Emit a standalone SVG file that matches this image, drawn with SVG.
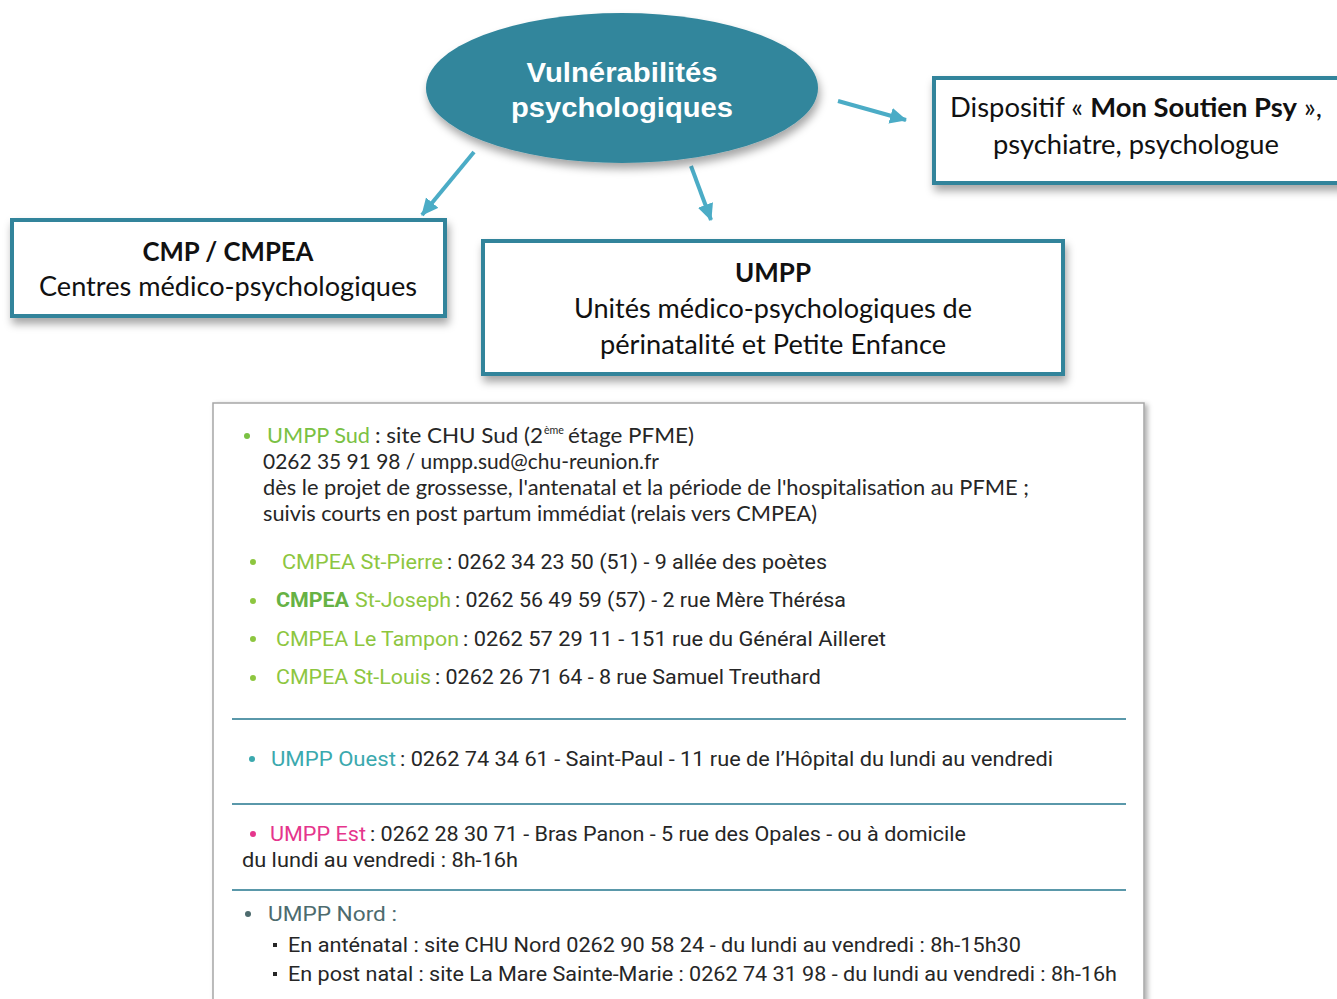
<svg xmlns="http://www.w3.org/2000/svg" width="1337" height="999" viewBox="0 0 1337 999">
  <style>
    .box { fill: #ffffff; stroke: #31849B; stroke-width: 4; }
    .boxt { font-family: Lato, "Noto Sans", sans-serif; font-size: 26px; fill: #111111; text-anchor: middle; }
    .b { font-weight: bold; }
    .link { stroke: #4BACC6; stroke-width: 4; fill: none; }
    .p { font-family: Lato, "Noto Sans", sans-serif; font-size: 21px; fill: #262626; }
    .c { font-family: Roboto, "Liberation Sans", sans-serif; font-size: 21px; fill: #262626; }
    .g { fill: #8DC63F; }
    .gd { fill: #66B245; font-weight: bold; }
    .sep { stroke: #5A98AA; stroke-width: 2; }
  </style>
  <defs>
    <filter id="shadow" x="-10%" y="-20%" width="120%" height="150%">
      <feDropShadow dx="2" dy="6" stdDeviation="4" flood-color="#000000" flood-opacity="0.35"/>
    </filter>
    <filter id="panelShadow" x="-5%" y="-5%" width="110%" height="110%">
      <feDropShadow dx="3" dy="2" stdDeviation="2.5" flood-color="#000000" flood-opacity="0.3"/>
    </filter>
    <marker id="head" markerUnits="userSpaceOnUse" markerWidth="20" markerHeight="18" refX="16" refY="8" orient="auto">
      <path d="M0,0 L17,8 L0,16 Z" fill="#4BACC6"/>
    </marker>
  </defs>

  <rect width="1337" height="999" fill="#ffffff"/>

  <!-- connectors -->
  <g id="connectors">
    <line class="link" x1="474" y1="152" x2="422" y2="215" marker-end="url(#head)"/>
    <line class="link" x1="691" y1="166" x2="711" y2="220" marker-end="url(#head)"/>
    <line class="link" x1="838" y1="101" x2="906" y2="120" marker-end="url(#head)"/>
  </g>

  <!-- central ellipse -->
  <g id="vulnerabilites">
    <ellipse cx="622" cy="88" rx="196" ry="75" fill="#32869C" filter="url(#shadow)"/>
    <text x="622" y="82" text-anchor="middle" font-family="'Liberation Sans', Arial, sans-serif" font-weight="bold" font-size="28" fill="#ffffff" textLength="191" lengthAdjust="spacingAndGlyphs">Vulnérabilités</text>
    <text x="622" y="117" text-anchor="middle" font-family="'Liberation Sans', Arial, sans-serif" font-weight="bold" font-size="28" fill="#ffffff" textLength="222" lengthAdjust="spacingAndGlyphs">psychologiques</text>
  </g>

  <!-- CMP / CMPEA -->
  <g id="cmp">
    <rect class="box" x="12" y="220" width="433" height="96" filter="url(#shadow)"/>
    <text class="boxt b" x="228" y="261" textLength="171" lengthAdjust="spacingAndGlyphs">CMP / CMPEA</text>
    <text class="boxt" x="228" y="296" textLength="378" lengthAdjust="spacingAndGlyphs">Centres médico-psychologiques</text>
  </g>

  <!-- UMPP -->
  <g id="umpp">
    <rect class="box" x="483" y="241" width="580" height="133" filter="url(#shadow)"/>
    <text class="boxt b" x="773" y="282" textLength="76" lengthAdjust="spacingAndGlyphs">UMPP</text>
    <text class="boxt" x="773" y="318" textLength="398" lengthAdjust="spacingAndGlyphs">Unités médico-psychologiques de</text>
    <text class="boxt" x="773" y="354" textLength="346" lengthAdjust="spacingAndGlyphs">périnatalité et Petite Enfance</text>
  </g>

  <!-- Mon Soutien Psy -->
  <g id="mon-soutien-psy">
    <rect class="box" x="934" y="78" width="420" height="105" filter="url(#shadow)"/>
    <text class="boxt" x="950" y="117" style="text-anchor:start" textLength="372" lengthAdjust="spacingAndGlyphs">Dispositif « <tspan class="b">Mon Soutien Psy</tspan> »,</text>
    <text class="boxt" x="1136" y="154" textLength="286" lengthAdjust="spacingAndGlyphs">psychiatre, psychologue</text>
  </g>

  <!-- contact panel -->
  <g id="contacts">
    <rect x="213" y="403" width="931" height="610" fill="#ffffff" stroke="#A6A6A6" stroke-width="1.5" filter="url(#panelShadow)"/>

    <!-- UMPP Sud -->
    <circle cx="247" cy="436" r="3" fill="#7AC143"/>
    <text class="p" x="267" y="443" style="fill:#7AC143" textLength="103" lengthAdjust="spacingAndGlyphs">UMPP Sud</text>
    <text class="p" x="375" y="443" textLength="168" lengthAdjust="spacingAndGlyphs">:  site CHU Sud (2</text>
    <text class="p" x="544" y="434" style="font-size:11px" textLength="20" lengthAdjust="spacingAndGlyphs">ème</text>
    <text class="p" x="568" y="443" textLength="126" lengthAdjust="spacingAndGlyphs">étage PFME)</text>
    <text class="p" x="263" y="469" textLength="396" lengthAdjust="spacingAndGlyphs">0262 35 91 98 / umpp.sud@chu-reunion.fr</text>
    <text class="p" x="263" y="495" textLength="766" lengthAdjust="spacingAndGlyphs">dès le projet de grossesse, l'antenatal et la période de l'hospitalisation au PFME ;</text>
    <text class="p" x="263" y="521" textLength="554" lengthAdjust="spacingAndGlyphs">suivis courts en post partum immédiat  (relais vers CMPEA)</text>

    <!-- CMPEA -->
    <circle cx="253" cy="562" r="3" fill="#8DC63F"/>
    <text class="c g" x="282" y="569" textLength="161" lengthAdjust="spacingAndGlyphs">CMPEA St-Pierre</text>
    <text class="c" x="447" y="569" textLength="380" lengthAdjust="spacingAndGlyphs">: 0262 34 23 50 (51) - 9 allée des poètes</text>

    <circle cx="253" cy="601" r="3" fill="#8DC63F"/>
    <text class="c gd" x="276" y="607" textLength="73" lengthAdjust="spacingAndGlyphs">CMPEA</text>
    <text class="c g" x="355" y="607" textLength="96" lengthAdjust="spacingAndGlyphs">St-Joseph</text>
    <text class="c" x="455" y="607" textLength="391" lengthAdjust="spacingAndGlyphs">: 0262 56 49 59 (57) - 2 rue Mère Thérésa</text>

    <circle cx="253" cy="639" r="3" fill="#8DC63F"/>
    <text class="c g" x="276" y="646" textLength="183" lengthAdjust="spacingAndGlyphs">CMPEA Le Tampon</text>
    <text class="c" x="463" y="646" textLength="423" lengthAdjust="spacingAndGlyphs">: 0262 57 29 11 - 151 rue du Général Ailleret</text>

    <circle cx="253" cy="678" r="3" fill="#8DC63F"/>
    <text class="c g" x="276" y="684" textLength="155" lengthAdjust="spacingAndGlyphs">CMPEA St-Louis</text>
    <text class="c" x="435" y="684" textLength="386" lengthAdjust="spacingAndGlyphs">: 0262 26 71 64 - 8 rue Samuel Treuthard</text>

    <line class="sep" x1="232" y1="719" x2="1126" y2="719"/>

    <!-- UMPP Ouest -->
    <circle cx="252" cy="759" r="3" fill="#3BA9AE"/>
    <text class="c" x="271" y="766" style="fill:#3BA9AE" textLength="125" lengthAdjust="spacingAndGlyphs">UMPP Ouest</text>
    <text class="c" x="400" y="766" textLength="653" lengthAdjust="spacingAndGlyphs">: 0262 74 34 61 - Saint-Paul - 11 rue de l’Hôpital du lundi au vendredi</text>

    <line class="sep" x1="232" y1="804" x2="1126" y2="804"/>

    <!-- UMPP Est -->
    <circle cx="253" cy="834" r="3" fill="#E5358C"/>
    <text class="c" x="270" y="841" style="fill:#E5358C" textLength="96" lengthAdjust="spacingAndGlyphs">UMPP Est</text>
    <text class="c" x="370" y="841" textLength="596" lengthAdjust="spacingAndGlyphs">: 0262 28 30 71 - Bras Panon - 5 rue des Opales - ou à domicile</text>
    <text class="c" x="242" y="867" textLength="276" lengthAdjust="spacingAndGlyphs">du lundi au vendredi : 8h-16h</text>

    <line class="sep" x1="232" y1="890" x2="1126" y2="890"/>

    <!-- UMPP Nord -->
    <circle cx="248" cy="914" r="3" fill="#4D6B6E"/>
    <text class="c" x="268" y="921" style="fill:#4D6B6E" textLength="129" lengthAdjust="spacingAndGlyphs">UMPP Nord :</text>
    <rect x="273" y="943" width="4" height="4" fill="#262626"/>
    <text class="c" x="288" y="952" textLength="733" lengthAdjust="spacingAndGlyphs">En anténatal : site CHU Nord 0262 90 58 24 - du lundi au vendredi : 8h-15h30</text>
    <rect x="273" y="972" width="4" height="4" fill="#262626"/>
    <text class="c" x="288" y="981" textLength="829" lengthAdjust="spacingAndGlyphs">En post natal : site La Mare Sainte-Marie : 0262 74 31 98 - du lundi au vendredi : 8h-16h</text>
  </g>
</svg>
